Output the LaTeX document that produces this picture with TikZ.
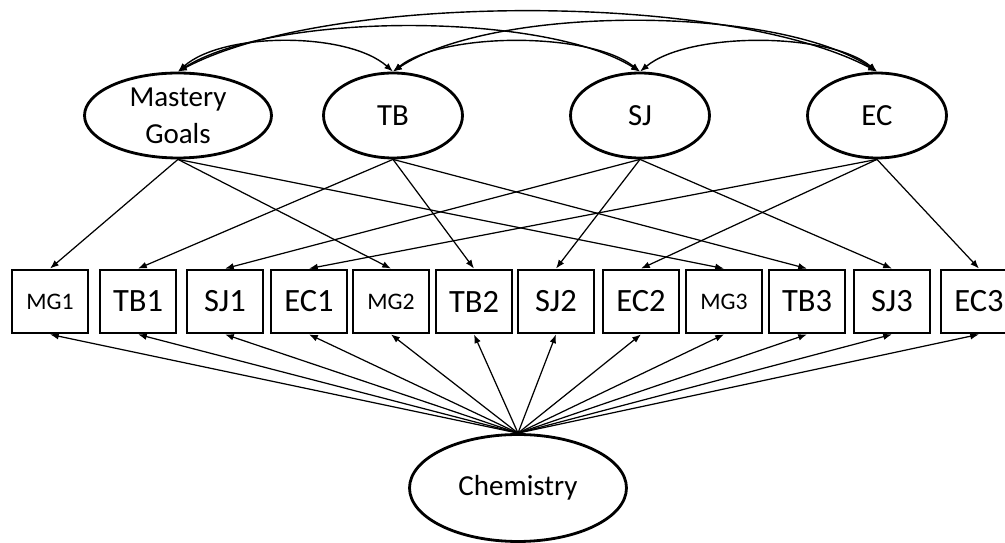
\documentclass[tikz,border=0pt]{standalone}
\usepackage{fontspec}
\setmainfont{Carlito}
\usetikzlibrary{shapes.geometric,arrows.meta}
\begin{document}
\begin{tikzpicture}[x=0.02cm,y=-0.02cm,
  latent/.style={ellipse,draw,line width=1.6pt,inner sep=0pt,
    minimum width=2.78cm,minimum height=1.7cm,font=\fontsize{17.5}{20}\selectfont},
  indic/.style={rectangle,draw,line width=1.6pt,inner sep=0pt,
    minimum width=1.52cm,minimum height=1.26cm,font=\fontsize{18.5}{20}\selectfont},
  mgind/.style={indic,font=\fontsize{13.5}{15}\selectfont},
  load/.style={line width=0.7pt,-{Latex[length=5pt,width=3.8pt]}},
  cov/.style={line width=0.8pt,{Latex[length=5pt,width=3.8pt]}-{Latex[length=5pt,width=3.8pt]}}]
\useasboundingbox (0,0) rectangle (1005,543);
\fill[white] (0,0) rectangle (1005,543);

% latent factors
\node[latent,minimum width=3.74cm,align=center,font=\fontsize{16.5}{21}\selectfont]
  (mg) at (178,115.5) {Mastery\\[0pt]Goals};
\node[latent] (tb) at (393,115.5) {TB};
\node[latent] (sj) at (640,115.5) {SJ};
\node[latent] (ec) at (877,115.5) {EC};

% method factor
\node[latent,minimum width=4.34cm,minimum height=2.14cm,font=\fontsize{16.5}{20}\selectfont]
  (chem) at (518,488) {Chemistry};

% indicators
\node[mgind] (mg1) at (50,301.5) {MG1};
\node[indic] (tb1) at (138,301.5) {TB1};
\node[indic] (sj1) at (225,301.5) {SJ1};
\node[indic] (ec1) at (309,301.5) {EC1};
\node[mgind] (mg2) at (391,301.5) {MG2};
\node[indic] (tb2) at (474,301.5) {TB2};
\node[indic] (sj2) at (556,301.5) {SJ2};
\node[indic] (ec2) at (641,301.5) {EC2};
\node[mgind] (mg3) at (724,301.5) {MG3};
\node[indic] (tb3) at (807,301.5) {TB3};
\node[indic] (sj3) at (892,301.5) {SJ3};
\node[indic] (ec3) at (979,301.5) {EC3};

% factor loadings
\foreach \f/\a/\b/\c in {mg/mg1/mg2/mg3, tb/tb1/tb2/tb3, sj/sj1/sj2/sj3, ec/ec1/ec2/ec3}{
  \draw[load] (\f.south) -- (\a.north);
  \draw[load] (\f.south) -- (\b.north);
  \draw[load] (\f.south) -- (\c.north);
}
\foreach \i in {mg1,tb1,sj1,ec1,mg2,tb2,sj2,ec2,mg3,tb3,sj3,ec3}
  \draw[load] (chem.north) -- (\i.south);

% factor covariances
\draw[cov] (mg.north) .. controls +(45,-40) and +(-45,-40) .. (tb.north);
\draw[cov] (tb.north) .. controls +(50,-40) and +(-50,-40) .. (sj.north);
\draw[cov] (sj.north) .. controls +(48,-40) and +(-48,-40) .. (ec.north);
\draw[cov] (mg.north) .. controls +(95,-60) and +(-95,-60) .. (sj.north);
\draw[cov] (tb.north) .. controls +(100,-67) and +(-100,-67) .. (ec.north);
\draw[cov] (mg.north) .. controls +(150,-80) and +(-150,-80) .. (ec.north);
\end{tikzpicture}
\end{document}
